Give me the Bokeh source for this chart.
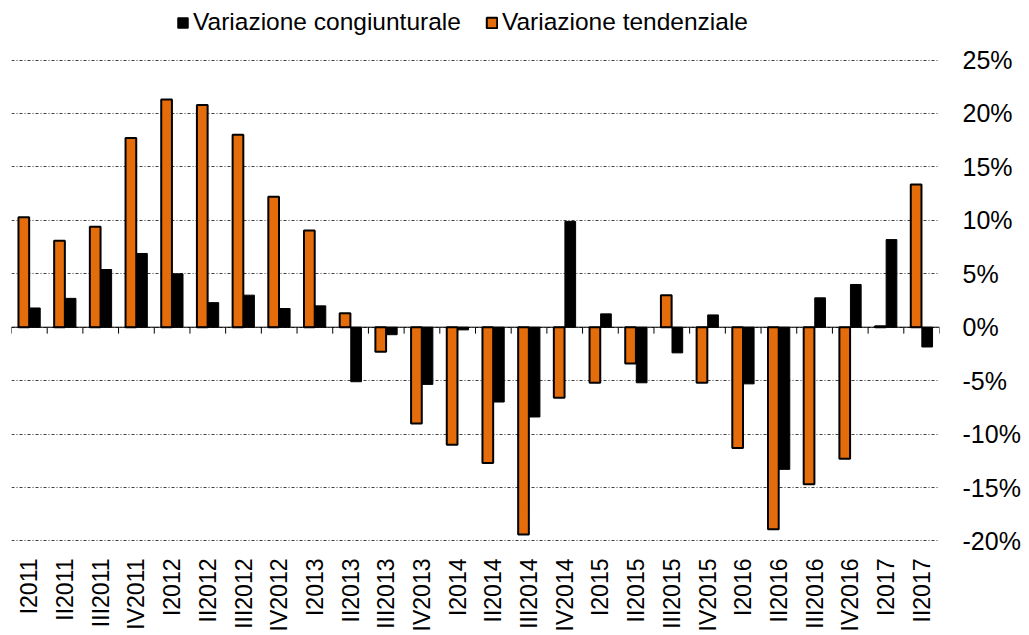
from bokeh.plotting import figure
from bokeh.models import (ColumnDataSource, Range1d, FixedTicker, PrintfTickFormatter,
                          Legend, LegendItem, Span)
from bokeh.embed import file_html
from bokeh.resources import INLINE
import math

quarters = ["I2011", "II2011", "III2011", "IV2011",
            "I2012", "II2012", "III2012", "IV2012",
            "I2013", "II2013", "III2013", "IV2013",
            "I2014", "II2014", "III2014", "IV2014",
            "I2015", "II2015", "III2015", "IV2015",
            "I2016", "II2016", "III2016", "IV2016",
            "I2017", "II2017"]

tendenziale = [10.3, 8.1, 9.4, 17.7, 21.3, 20.8, 18.0, 12.2, 9.05, 1.3,
               -2.3, -9.0, -11.0, -12.7, -19.4, -6.6, -5.2, -3.4, 3.0, -5.2,
               -11.3, -18.9, -14.7, -12.3, 0.1, 13.35]

congiunturale = [1.8, 2.7, 5.4, 6.9, 5.0, 2.3, 3.0, 1.75, 2.0, -5.1,
                 -0.7, -5.35, -0.25, -7.0, -8.4, 9.9, 1.25, -5.2, -2.4, 1.15,
                 -5.3, -13.3, 2.75, 4.0, 8.2, -1.85]

y_ticks = [-20, -15, -10, -5, 0, 5, 10, 15, 20, 25]

ORANGE = "#E46C0A"
FONT = "Liberation Sans"

n = len(quarters)
centers = [i + 0.5 for i in range(n)]
off = 0.155
bw = 0.30

# vertical scale: 482 px for the -20..25 span (plus tiny pad), extra room on top for legend
plot_px = 482
top_px = 59
y0 = y_ticks[0] - 0.05
y1 = y_ticks[-1] + 0.05
ppu = plot_px / (y1 - y0)
y_top = y1 + top_px / ppu

src = ColumnDataSource(dict(
    xo=[c - off for c in centers],
    xb=[c + off for c in centers],
    tend=tendenziale,
    cong=congiunturale,
))

p = figure(frame_width=928, frame_height=plot_px + top_px,
           x_range=Range1d(0, n), y_range=Range1d(y0, y_top),
           y_axis_location="right", x_axis_location="below",
           output_backend="svg", toolbar_location=None,
           min_border_left=11, min_border_right=0, min_border_top=0,
           min_border_bottom=0)
p.outline_line_color = None
p.background_fill_color = "white"
p.border_fill_color = "white"

# grid
p.xgrid.visible = False
p.ygrid.ticker = FixedTicker(ticks=y_ticks)
p.ygrid.grid_line_color = "#404040"
p.ygrid.grid_line_dash = "3 2 1 2"
p.ygrid.grid_line_width = 1

# bars
r_t = p.vbar(x="xo", width=bw, bottom=0, top="tend", source=src,
             fill_color=ORANGE, line_color="black", line_width=2)
r_c = p.vbar(x="xb", width=bw, bottom=0, top="cong", source=src,
             fill_color="black", line_color="black", line_width=1)

# zero axis line with boundary ticks
p.add_layout(Span(location=0, dimension="width", line_color="black", line_width=1))
p.segment(x0=list(range(n + 1)), x1=list(range(n + 1)),
          y0=[0] * (n + 1), y1=[-0.6] * (n + 1), line_color="black", line_width=1)

# y axis (right)
ya = p.yaxis[0]
ya.ticker = FixedTicker(ticks=y_ticks)
ya.formatter = PrintfTickFormatter(format="%d%%")
ya.axis_line_color = None
ya.major_tick_line_color = None
ya.minor_tick_line_color = None
ya.major_tick_out = 0
ya.major_tick_in = 0
ya.minor_tick_out = 0
ya.major_label_standoff = 23
ya.major_label_text_font = FONT
ya.major_label_text_font_size = "25px"
ya.major_label_text_color = "black"

# x axis (bottom, labels only)
xa = p.xaxis[0]
xa.ticker = FixedTicker(ticks=centers)
xa.major_label_overrides = {c: q for c, q in zip(centers, quarters)}
xa.major_label_orientation = math.pi / 2
xa.axis_line_color = None
xa.major_tick_line_color = None
xa.minor_tick_line_color = None
xa.major_tick_out = 0
xa.major_tick_in = 0
xa.minor_tick_out = 0
xa.major_label_standoff = 17
xa.major_label_text_font = FONT
xa.major_label_text_font_size = "23px"
xa.major_label_text_color = "black"

legend = Legend(items=[LegendItem(label="Variazione congiunturale", renderers=[r_c]),
                       LegendItem(label="Variazione tendenziale", renderers=[r_t])],
                orientation="horizontal", location=(165, 505))
legend.label_text_font = FONT
legend.label_text_font_size = "24.5px"
legend.label_text_color = "black"
legend.glyph_width = 13
legend.glyph_height = 13
legend.label_standoff = 4
legend.spacing = 24
legend.padding = 0
legend.margin = 0
legend.border_line_color = None
legend.background_fill_alpha = 0
p.add_layout(legend, "center")

open("out.html", "w").write(file_html(p, INLINE))
